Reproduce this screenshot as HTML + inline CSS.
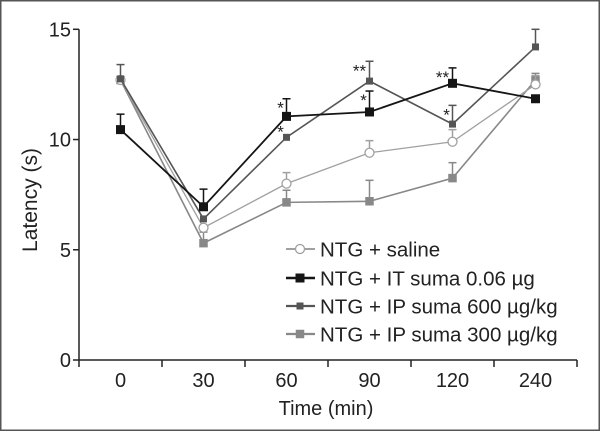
<!DOCTYPE html>
<html><head><meta charset="utf-8"><style>
html,body{margin:0;padding:0;background:#fff;overflow:hidden}
svg{display:block;font-family:"Liberation Sans",sans-serif}
</style></head><body>
<svg id="chart" width="600" height="431" viewBox="0 0 600 431">
<rect x="0.75" y="0.75" width="598.5" height="429.5" fill="#fff" stroke="#555" stroke-width="1.5"/>
<g id="axes"></g><g id="series"></g><g id="legend"></g>
</svg>
<script>
const categories = ["0","30","60","90","120","240"];
const yTicks = [0,5,10,15];
const seriesNames = ["NTG + saline","NTG + IT suma 0.06 \u00b5g","NTG + IP suma 600 \u00b5g/kg","NTG + IP suma 300 \u00b5g/kg"];
const saline = [12.7,6.0,8.0,9.4,9.9,12.5];
const salineErr = [0,0,0.5,0.55,0.55,0.4];
const itSuma = [10.45,6.95,11.05,11.25,12.55,11.85];
const itSumaErr = [0.7,0.8,0.8,0.95,0.7,0];
const ip600 = [12.75,6.4,10.1,12.65,10.7,14.2];
const ip600Err = [0.65,0,0,0.9,0.85,0.8];
const ip300 = [12.7,5.3,7.15,7.2,8.25,12.7];
const ip300Err = [0,0.5,0.55,0.95,0.7,0.3];
const stars = [["*",2,1,"top"],["*",2,2,"pt"],["**",3,2,"top"],["*",3,1,"top"],["**",4,1,"top"],["*",4,2,"top"]];

const NS="http://www.w3.org/2000/svg";
const X0=79,X1=577,Y0=360,Y15=29.3;
const band=(X1-X0)/6;
const xPos=i=>X0+band*(i+0.5);
const yPos=v=>Y0-(Y0-Y15)*v/15;
function mk(tag,attrs,parent,text){const e=document.createElementNS(NS,tag);for(const k in attrs)e.setAttribute(k,attrs[k]);if(text!==undefined)e.textContent=text;parent.appendChild(e);return e;}
const axes=document.getElementById('axes'),ser=document.getElementById('series'),leg=document.getElementById('legend');
let e;
e=mk('line',{x1:X0,y1:Y15,x2:X0,y2:Y0,stroke:'#222','stroke-width':1.5},axes);


e=mk('line',{x1:X0,y1:Y0,x2:X1,y2:Y0,stroke:'#222','stroke-width':1.5},axes);


yTicks.forEach(t=>{
 mk('line',{x1:X0-6,y1:yPos(t),x2:X0,y2:yPos(t),stroke:'#222','stroke-width':1.5},axes);
 e=mk('text',{x:X0-8,y:yPos(t)+7,'text-anchor':'end','font-size':20,fill:'#222'},axes,String(t));
 
 
});
for(let i=0;i<=6;i++) mk('line',{x1:X0+band*i,y1:Y0,x2:X0+band*i,y2:Y0+7,stroke:'#222','stroke-width':1.5},axes);
categories.forEach((c,i)=>{
 e=mk('text',{x:xPos(i),y:Y0+27,'text-anchor':'middle','font-size':20,fill:'#222'},axes,c);
 
 
});
e=mk('text',{x:326,y:415,'text-anchor':'middle','font-size':20,fill:'#222'},axes,'Time (min)');


e=mk('text',{x:0,y:0,'text-anchor':'middle','font-size':21,fill:'#222',transform:'translate(37,200) rotate(-90)'},axes,'Latency (s)');



const defs=[
 {vals:saline,err:salineErr,color:'#a0a0a0',w:1.3,marker:'circle',ms:5},
 {vals:itSuma,err:itSumaErr,color:'#151515',w:1.8,marker:'square',ms:9},
 {vals:ip600,err:ip600Err,color:'#555',w:1.6,marker:'square',ms:7},
 {vals:ip300,err:ip300Err,color:'#888',w:1.6,marker:'square',ms:8.5}];
const order=[3,0,2,1];
order.forEach(si=>{
 const d=defs[si];
 const g=mk('g',{},ser);
 
 
 d.vals.forEach((v,i)=>{ if(d.err[i]>0){
  mk('line',{x1:xPos(i),y1:yPos(v),x2:xPos(i),y2:yPos(v+d.err[i]),stroke:d.color,'stroke-width':1.5},g);
  mk('line',{x1:xPos(i)-4,y1:yPos(v+d.err[i]),x2:xPos(i)+4,y2:yPos(v+d.err[i]),stroke:d.color,'stroke-width':1.5},g);}});
 const pl=mk('polyline',{points:d.vals.map((v,i)=>xPos(i)+','+yPos(v)).join(' '),fill:'none',stroke:d.color,'stroke-width':d.w},g);
 
 
 d.vals.forEach((v,i)=>{
  let m;
  if(d.marker==='circle') m=mk('circle',{cx:xPos(i),cy:yPos(v),r:4.5,fill:'#fff',stroke:d.color,'stroke-width':1.3},g);
  else m=mk('rect',{x:xPos(i)-d.ms/2,y:yPos(v)-d.ms/2,width:d.ms,height:d.ms,fill:d.color},g);
  
  
 });
});
stars.forEach(s=>{
 const d=defs[s[2]];
 const v=d.vals[s[1]];
 const ref=s[3]==='top'?v+d.err[s[1]]:v;
 e=mk('text',{x:xPos(s[1])-(s[0].length>1?10:6),y:yPos(ref)+(s[3]==='top'?15:0),'text-anchor':'middle','font-size':17,fill:'#222'},axes,s[0]);
 
 
});
const legY=[249,278,306,334];
seriesNames.forEach((n,i)=>{
 const d=defs[i];
 const g=mk('g',{},leg);
 
 
 mk('line',{x1:286,y1:legY[i],x2:315,y2:legY[i],stroke:d.color,'stroke-width':d.w+0.6},g);
 if(d.marker==='circle') mk('circle',{cx:300,cy:legY[i],r:4.5,fill:'#fff',stroke:d.color,'stroke-width':1.3},g);
 else mk('rect',{x:300-d.ms/2,y:legY[i]-d.ms/2,width:d.ms,height:d.ms,fill:d.color},g);
 mk('text',{x:320,y:legY[i]+7.5,'font-size':20.5,fill:'#222'},g,n);
});
</script>
</body></html>
